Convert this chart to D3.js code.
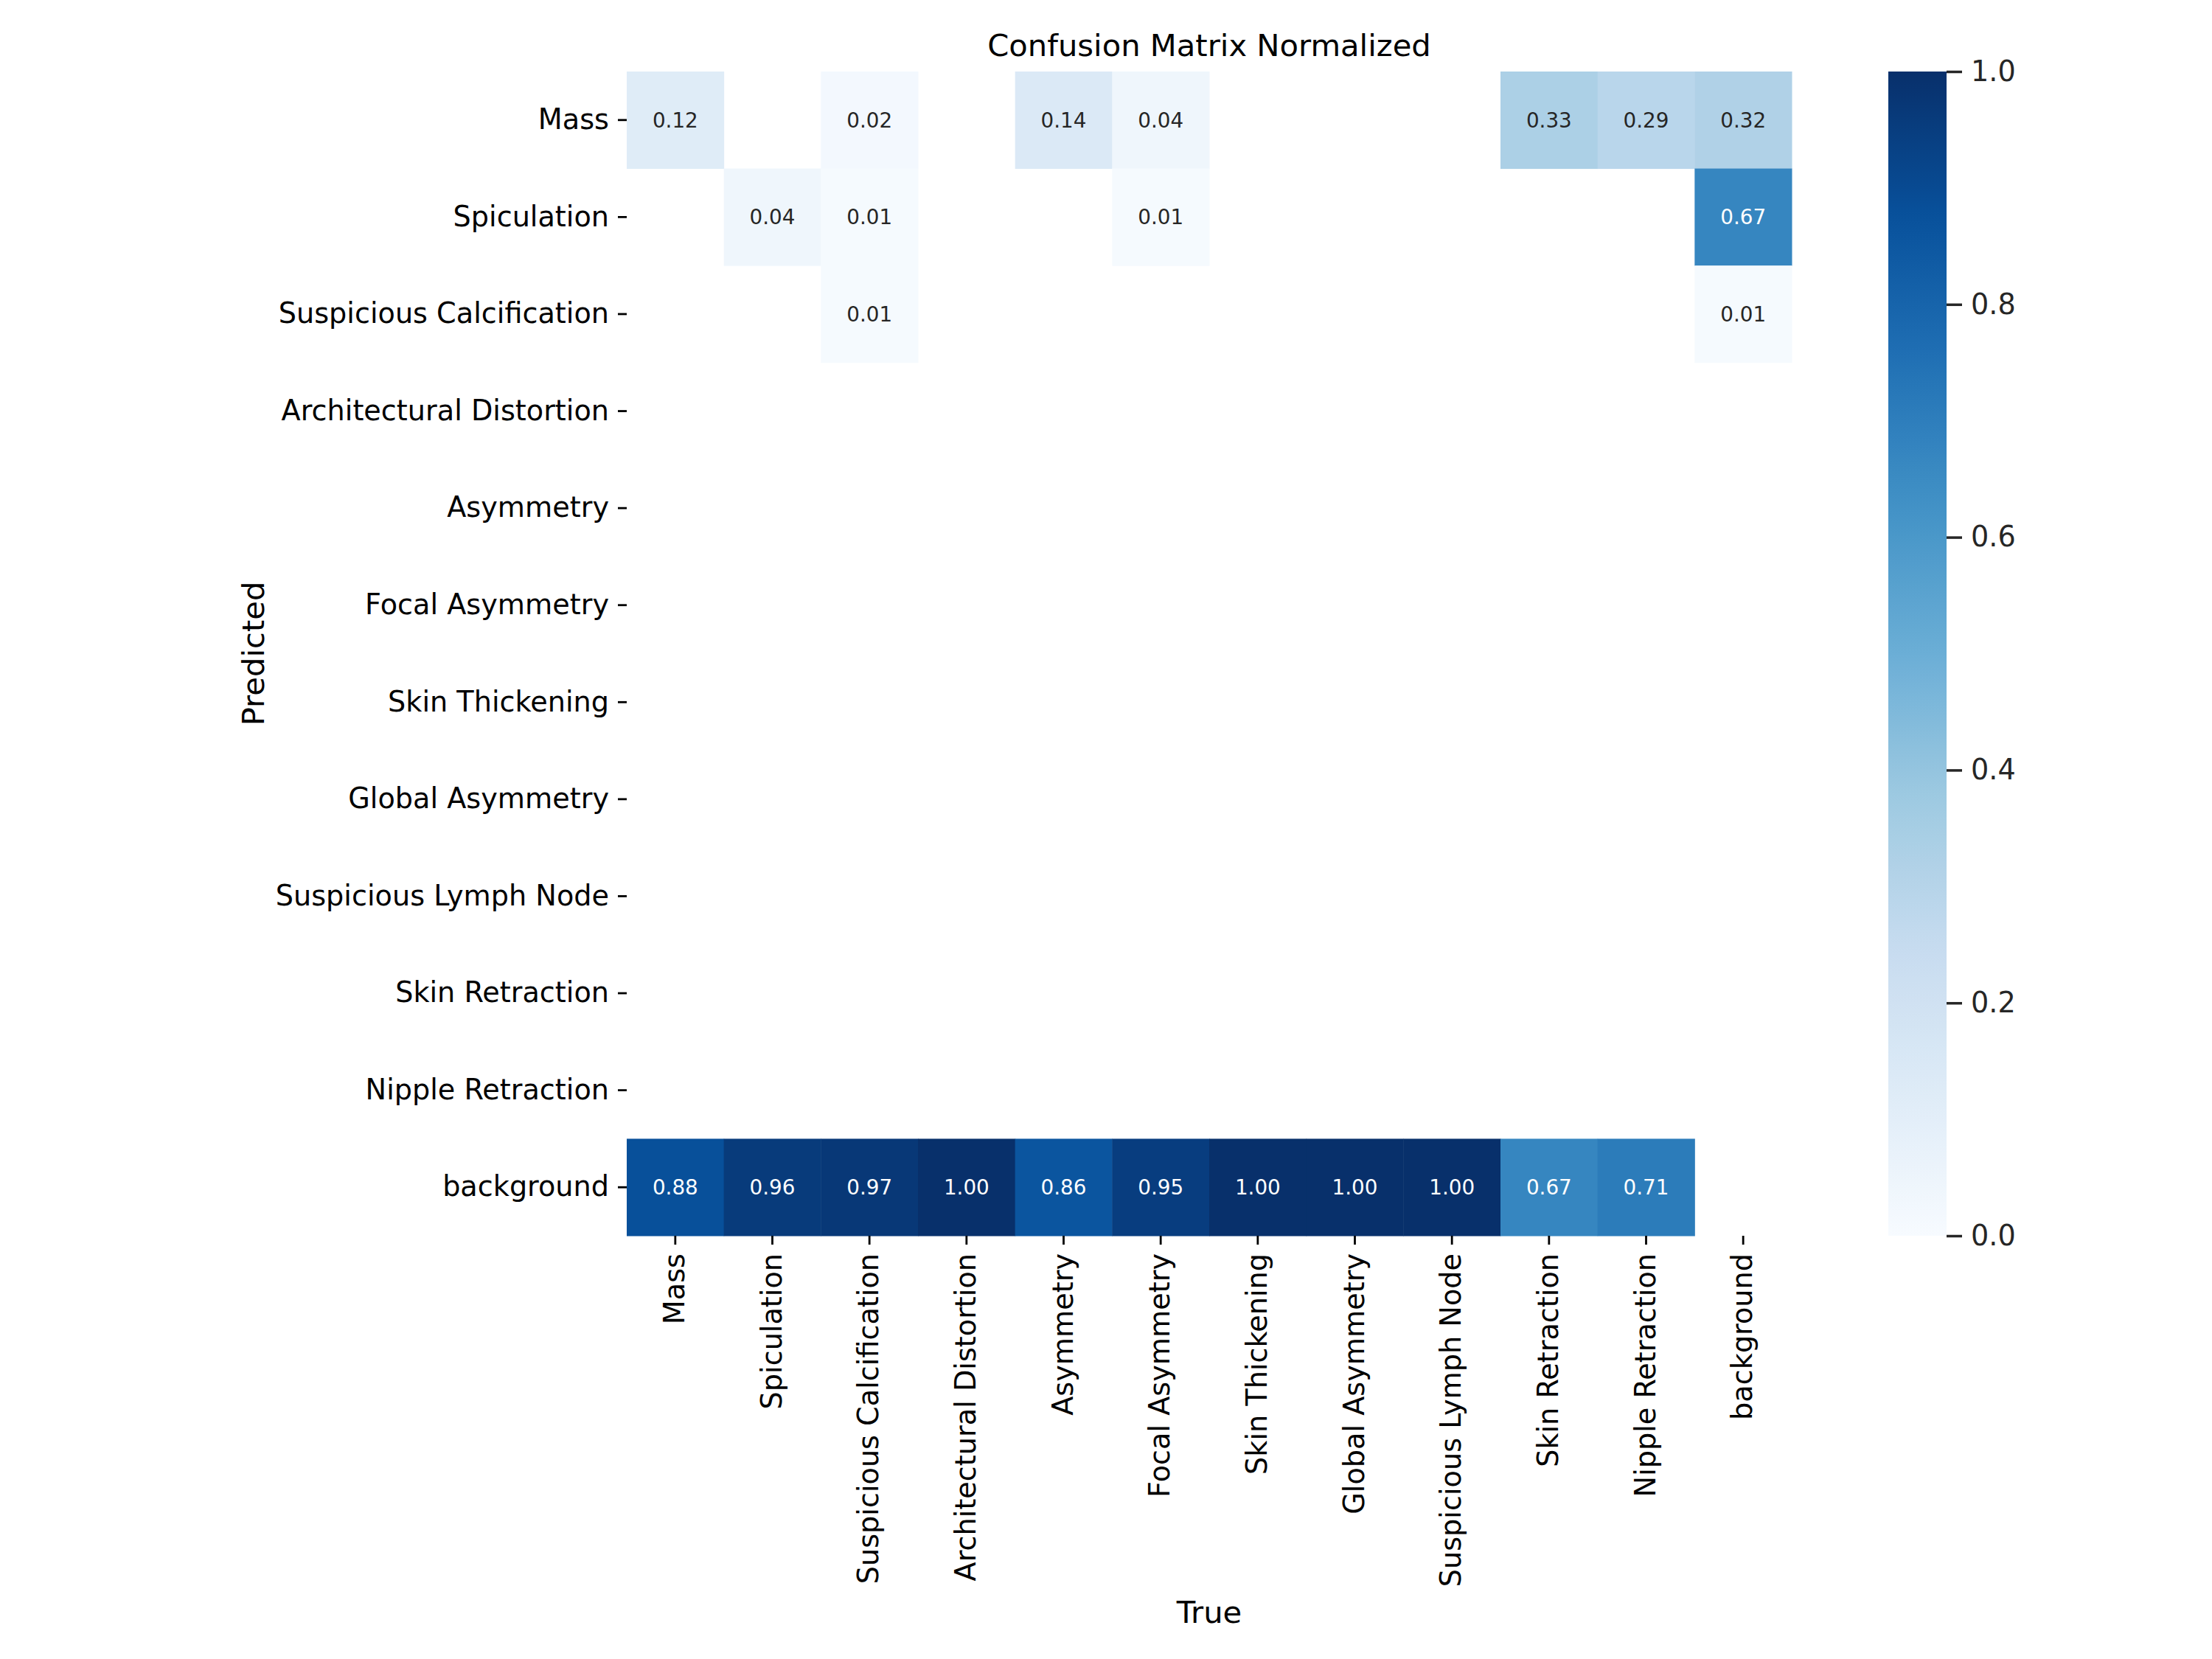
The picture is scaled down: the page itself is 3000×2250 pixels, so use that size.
<!DOCTYPE html>
<html>
<head>
<meta charset="utf-8">
<script src="https://cdn.jsdelivr.net/npm/d3@7"></script>
<style>
  body { margin: 0; background: #fff; }
  text { font-family: "DejaVu Sans", sans-serif; }
</style>
</head>
<body>
<div id="chart"></div>
<script>
// class names (rows = Predicted, columns = True)
const classes = [
  "Mass", "Spiculation", "Suspicious Calcification", "Architectural Distortion",
  "Asymmetry", "Focal Asymmetry", "Skin Thickening", "Global Asymmetry",
  "Suspicious Lymph Node", "Skin Retraction", "Nipple Retraction", "background"
];

// normalized values, null = below 0.005 (not drawn)
const rowMass        = [0.12, null, 0.02, null, 0.14, 0.04, null, null, null, 0.33, 0.29, 0.32];
const rowSpiculation = [null, 0.04, 0.01, null, null, 0.01, null, null, null, null, null, 0.67];
const rowSuspCalc    = [null, null, 0.01, null, null, null, null, null, null, null, null, 0.01];
const rowEmpty       = [null, null, null, null, null, null, null, null, null, null, null, null];
const rowBackground  = [0.88, 0.96, 0.97, 1.00, 0.86, 0.95, 1.00, 1.00, 1.00, 0.67, 0.71, null];

const matrix = [
  rowMass, rowSpiculation, rowSuspCalc,
  rowEmpty, rowEmpty, rowEmpty, rowEmpty, rowEmpty, rowEmpty, rowEmpty, rowEmpty,
  rowBackground
];

const colorbarTicks = [0, 0.2, 0.4, 0.6, 0.8, 1.0];

// matplotlib "Blues" control points
const bluesStops = ["#f7fbff", "#deebf7", "#c6dbef", "#9ecae1", "#6baed6",
                    "#4292c6", "#2171b5", "#08519c", "#08306b"];

const width = 3000, height = 2250;
const plotL = 850, plotR = 2430, plotT = 97, plotB = 1676;
const tickFont = 38.2, labelFont = 41.7, annotFont = 27.8;

const svg = d3.select("#chart").append("svg")
  .attr("width", width)
  .attr("height", height)
  .attr("viewBox", [0, 0, width, height]);

const x = d3.scaleBand().domain(d3.range(classes.length)).range([plotL, plotR]);
const y = d3.scaleBand().domain(d3.range(classes.length)).range([plotT, plotB]);

const color = d3.scaleLinear()
  .domain(bluesStops.map((d, i) => i / (bluesStops.length - 1)))
  .range(bluesStops)
  .interpolate(d3.interpolateRgb)
  .clamp(true);

// seaborn picks annotation colour from cell luminance
function luminance(c) {
  const rgb = d3.rgb(c);
  const lin = [rgb.r, rgb.g, rgb.b].map(v => {
    v /= 255;
    return v <= 0.03928 ? v / 12.92 : Math.pow((v + 0.055) / 1.055, 2.4);
  });
  return 0.2126 * lin[0] + 0.7152 * lin[1] + 0.0722 * lin[2];
}

const cells = [];
matrix.forEach((row, r) => row.forEach((v, c) => {
  if (v !== null) cells.push({ r, c, v });
}));

const g = svg.append("g");
g.selectAll("rect")
  .data(cells)
  .join("rect")
  .attr("x", d => x(d.c))
  .attr("y", d => y(d.r))
  .attr("width", x.bandwidth() + 0.5)
  .attr("height", y.bandwidth() + 0.5)
  .attr("fill", d => color(d.v));

g.selectAll("text.annot")
  .data(cells)
  .join("text")
  .attr("class", "annot")
  .attr("x", d => x(d.c) + x.bandwidth() / 2)
  .attr("y", d => y(d.r) + y.bandwidth() / 2)
  .attr("dy", "0.36em")
  .attr("text-anchor", "middle")
  .attr("font-size", annotFont)
  .attr("fill", d => luminance(color(d.v)) > 0.408 ? "#262626" : "#ffffff")
  .text(d => d3.format(".2f")(d.v));

// y axis
const yAxis = svg.append("g")
  .attr("transform", `translate(${plotL},0)`)
  .call(d3.axisLeft(y).tickSize(12).tickPadding(12).tickFormat(i => classes[i]));
yAxis.select(".domain").remove();
yAxis.selectAll(".tick line").attr("stroke", "#000").attr("stroke-width", 2.8);
yAxis.selectAll(".tick text")
  .attr("font-size", tickFont)
  .attr("font-family", "DejaVu Sans")
  .attr("fill", "#000");

// x axis, labels rotated
const xAxis = svg.append("g")
  .attr("transform", `translate(0,${plotB})`)
  .call(d3.axisBottom(x).tickSize(12).tickFormat(i => classes[i]));
xAxis.select(".domain").remove();
xAxis.selectAll(".tick line").attr("stroke", "#000").attr("stroke-width", 2.8);
xAxis.selectAll(".tick text")
  .attr("font-size", tickFont)
  .attr("font-family", "DejaVu Sans")
  .attr("fill", "#000")
  .attr("transform", "rotate(-90)")
  .attr("x", -24)
  .attr("y", 0)
  .attr("dy", "0.32em")
  .attr("text-anchor", "end");

// axis titles
svg.append("text")
  .attr("x", (plotL + plotR) / 2)
  .attr("y", 2201)
  .attr("text-anchor", "middle")
  .attr("font-size", labelFont)
  .attr("fill", "#000")
  .text("True");

svg.append("text")
  .attr("transform", `translate(358,${(plotT + plotB) / 2}) rotate(-90)`)
  .attr("text-anchor", "middle")
  .attr("font-size", labelFont)
  .attr("fill", "#000")
  .text("Predicted");

svg.append("text")
  .attr("x", (plotL + plotR) / 2)
  .attr("y", 76)
  .attr("text-anchor", "middle")
  .attr("font-size", labelFont)
  .attr("fill", "#000")
  .text("Confusion Matrix Normalized");

// colorbar
const cbLeft = 2561, cbWidth = 79;
const cbScale = d3.scaleLinear().domain([0, 1]).range([plotB, plotT]);

const defs = svg.append("defs");
const grad = defs.append("linearGradient")
  .attr("id", "blues")
  .attr("x1", 0).attr("y1", 1).attr("x2", 0).attr("y2", 0);
grad.selectAll("stop")
  .data(d3.range(0, 1.0001, 0.02))
  .join("stop")
  .attr("offset", d => d)
  .attr("stop-color", d => color(d));

svg.append("rect")
  .attr("x", cbLeft)
  .attr("y", plotT)
  .attr("width", cbWidth)
  .attr("height", plotB - plotT)
  .attr("fill", "url(#blues)");

const cbAxis = svg.append("g")
  .attr("transform", `translate(${cbLeft + cbWidth},0)`)
  .call(d3.axisRight(cbScale).tickValues(colorbarTicks).tickSize(21).tickPadding(12)
    .tickFormat(d3.format(".1f")));
cbAxis.select(".domain").remove();
cbAxis.selectAll(".tick line").attr("stroke", "#262626").attr("stroke-width", 3.5);
cbAxis.selectAll(".tick text")
  .attr("font-size", tickFont)
  .attr("font-family", "DejaVu Sans")
  .attr("fill", "#262626");
</script>
</body>
</html>
